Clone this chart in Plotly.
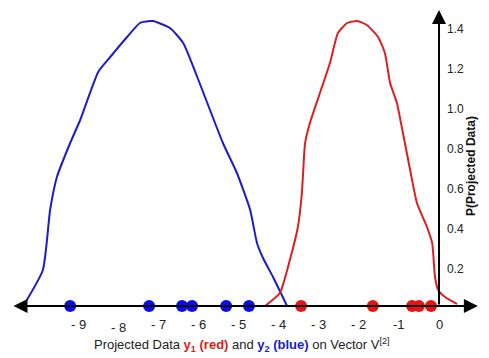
import plotly.graph_objects as go

# Projected data points
blue_points = [-9.20, -7.23, -6.41, -6.16, -5.31, -4.74]
red_points = [-3.44, -1.65, -0.67, -0.50, -0.20]

# Density curves (estimated)
blue_x = [-10.37, -9.88, -9.70, -9.53, -9.20, -8.95, -8.50, -8.20, -7.78, -7.46, -7.21, -7.13,
          -6.71, -6.38, -6.03, -5.39, -5.04, -4.71, -4.54, -4.39, -4.14, -3.79]
blue_y = [0.0, 0.18, 0.48, 0.645, 0.815, 0.93, 1.17, 1.245, 1.345, 1.415, 1.425, 1.425,
          1.39, 1.315, 1.145, 0.815, 0.665, 0.48, 0.315, 0.24, 0.145, 0.0]
red_x = [-4.34, -3.97, -3.72, -3.52, -3.42, -3.34, -3.22, -2.97, -2.72, -2.52, -2.29, -2.04,
         -1.80, -1.52, -1.35, -1.22, -1.05, -0.90, -0.72, -0.55, -0.30, -0.17, -0.10, -0.02,
         0.15, 0.45]
red_y = [0.0, 0.065, 0.23, 0.395, 0.565, 0.815, 0.915, 1.065, 1.215, 1.365, 1.415, 1.425,
         1.405, 1.345, 1.265, 1.115, 1.015, 0.865, 0.68, 0.515, 0.395, 0.315, 0.145, 0.08,
         0.045, 0.01]

x_tick_vals = [-9, -8, -7, -6, -5, -4, -3, -2, -1, 0]
x_tick_text = ["- 9", "- 8", "- 7", "- 6", "- 5", "- 4", "- 3", "- 2", "-1", "0"]
x_tick_dy = [0, -3, 0, 0, 0, 0, 0, 0, 0, 0]
y_tick_vals = [0.2, 0.4, 0.6, 0.8, 1.0, 1.2, 1.4]
y_tick_text = ["0.2", "0.4", "0.6", "0.8", "1.0", "1.2", "1.4"]

BLUE_LINE = "#1c1cc8"
RED_LINE = "#dc1f1f"
BLUE_PT = "#0a0af0"
RED_PT = "#f01010"
FONT = "Liberation Sans, Arial, sans-serif"

fig = go.Figure()
fig.add_trace(go.Scatter(x=blue_x, y=blue_y, mode="lines",
                         line=dict(color=BLUE_LINE, width=2, shape="spline", smoothing=0.5),
                         hoverinfo="skip"))
fig.add_trace(go.Scatter(x=red_x, y=red_y, mode="lines",
                         line=dict(color=RED_LINE, width=2, shape="spline", smoothing=0.5),
                         hoverinfo="skip"))

# axes lines with arrows
fig.add_annotation(x=0.97, y=0, ax=-10.65, ay=0, xref="x", yref="y", axref="x", ayref="y",
                   showarrow=True, arrowhead=2, arrowside="end+start", arrowsize=1.4,
                   arrowwidth=2, arrowcolor="black", text="")
fig.add_annotation(x=0, y=1.48, ax=0, ay=0, xref="x", yref="y", axref="x", ayref="y",
                   showarrow=True, arrowhead=2, arrowsize=1.4, arrowwidth=2,
                   arrowcolor="black", text="")

fig.add_trace(go.Scatter(x=blue_points, y=[0] * len(blue_points), mode="markers",
                         marker=dict(color=BLUE_PT, size=12), hoverinfo="skip"))
fig.add_trace(go.Scatter(x=red_points, y=[0] * len(red_points), mode="markers",
                         marker=dict(color=RED_PT, size=12), hoverinfo="skip"))

for v, t, dy in zip(x_tick_vals, x_tick_text, x_tick_dy):
    fig.add_annotation(x=v, y=0, xref="x", yref="y", text=t, showarrow=False,
                       xanchor="center", yanchor="middle", yshift=-18 + dy,
                       font=dict(family=FONT, size=13, color="#222"))
for v, t in zip(y_tick_vals, y_tick_text):
    fig.add_annotation(x=0, y=v, xref="x", yref="y", text=t, showarrow=False,
                       xanchor="left", yanchor="middle", xshift=6, yshift=-3,
                       font=dict(family=FONT, size=12, color="#222"))

fig.add_annotation(
    x=-4.91, y=0, xref="x", yref="y", showarrow=False, xanchor="center", yanchor="middle",
    yshift=-39,
    text=("Projected Data <b><span style='color:#e02020'>y<sub>1</sub> (red)</span></b> and "
          "<b><span style='color:#2020c0'>y<sub>2</sub> (blue)</span></b> on Vector V<sup>[2]</sup>"),
    font=dict(family=FONT, size=13, color="#222"))

fig.add_annotation(x=0.8, y=0.7, xref="x", yref="y", showarrow=False, textangle=-90,
                   text="<b>P(Projected Data)</b>", xanchor="center", yanchor="middle",
                   font=dict(family=FONT, size=12, color="#111"))

fig.update_layout(
    width=489, height=358, margin=dict(l=0, r=0, t=0, b=0),
    paper_bgcolor="white", plot_bgcolor="white", showlegend=False,
    xaxis=dict(range=[-10.95, 1.247], visible=False, fixedrange=True),
    yaxis=dict(range=[-0.26, 1.53], visible=False, fixedrange=True),
)
fig.write_html("out.html", config={"displayModeBar": False},
               post_script="document.body.style.margin='0';document.body.style.overflow='hidden';")
